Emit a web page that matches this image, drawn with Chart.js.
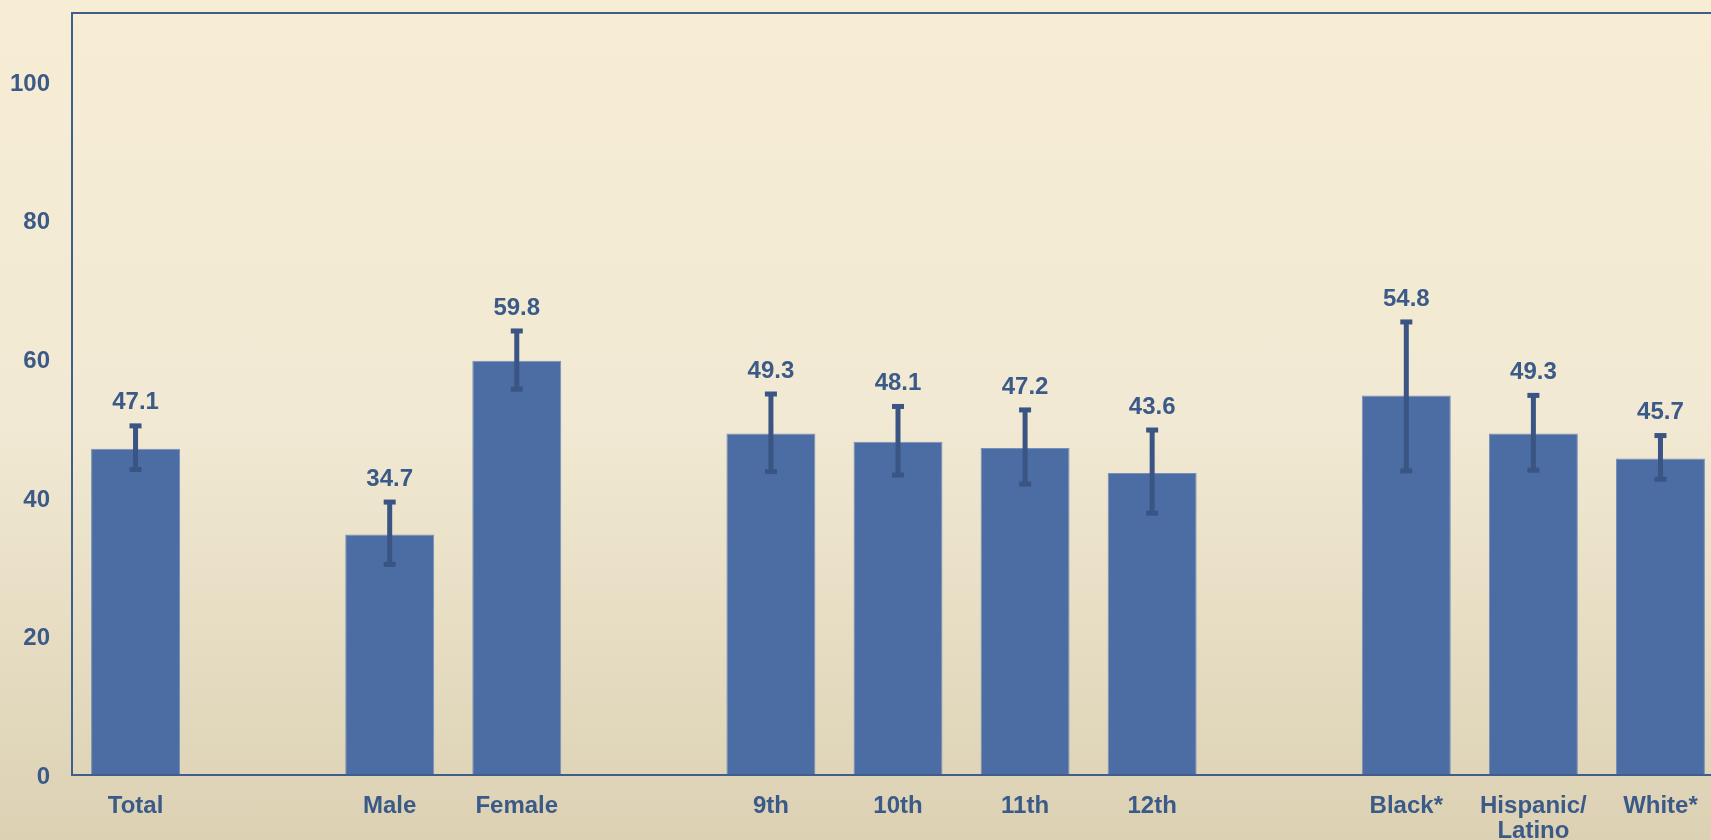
<!DOCTYPE html>
<html>
<head>
<meta charset="utf-8">
<script src="https://cdn.jsdelivr.net/npm/chart.js@4.4.1/dist/chart.umd.min.js"></script>
<style>
    html, body { margin: 0; padding: 0; overflow: hidden; }
    body {
        width: 1711px;
        height: 840px;
        background: linear-gradient(to bottom, #f7edd5 0%, #f1e9d3 50%, #dcd1b3 100%);
    }
    #wrap { width: 1740px; height: 840px; position: relative; }
</style>
</head>
<body>
<div id="wrap"><canvas id="myBarChart"></canvas></div>
<script>
// Danh mục và số liệu (ô trống = khoảng cách giữa các nhóm)
const categories = ["Total", "", "Male", "Female", "", "9th", "10th", "11th", "12th", "", "Black*", ["Hispanic/", "Latino"], "White*"];
const percentValues = [47.1, null, 34.7, 59.8, null, 49.3, 48.1, 47.2, 43.6, null, 54.8, 49.3, 45.7];
const ciLower = [44.1, null, 30.4, 55.7, null, 43.8, 43.3, 42.0, 37.8, null, 43.9, 44.0, 42.7];
const ciUpper = [50.4, null, 39.4, 64.1, null, 55.0, 53.2, 52.7, 49.8, null, 65.4, 54.8, 49.0];
const yTicks = [0, 20, 40, 60, 80, 100];

const textColor = "#3b5a88";
const fontFamily = '"Liberation Sans", Arial, sans-serif';

// Vẽ thanh sai số, nhãn giá trị và khung biểu đồ
const errorBarPlugin = {
    id: "errorBars",
    afterDatasetsDraw: function (chart) {
        const ctx = chart.ctx;
        const yScale = chart.scales.y;
        const meta = chart.getDatasetMeta(0);
        ctx.save();
        meta.data.forEach(function (bar, i) {
            if (percentValues[i] == null) return;
            const x = bar.x;
            const top = yScale.getPixelForValue(ciUpper[i]);
            const bottom = yScale.getPixelForValue(ciLower[i]);
            ctx.strokeStyle = "#3a5583";
            ctx.fillStyle = "#3a5583";
            ctx.lineWidth = 5;
            ctx.beginPath();
            ctx.moveTo(x, top);
            ctx.lineTo(x, bottom);
            ctx.stroke();
            ctx.fillRect(x - 6, top - 2.5, 12, 5);
            ctx.fillRect(x - 6, bottom - 2.5, 12, 5);

            ctx.font = "bold 24px " + fontFamily;
            ctx.textAlign = "center";
            ctx.textBaseline = "middle";
            ctx.fillStyle = textColor;
            ctx.fillText(percentValues[i].toFixed(1), x, top - 23);
        });
        const a = chart.chartArea;
        ctx.strokeStyle = "#3f5e8c";
        ctx.lineWidth = 2;
        ctx.beginPath();
        ctx.moveTo(a.right + 20, a.top);
        ctx.lineTo(a.left, a.top);
        ctx.lineTo(a.left, a.bottom);
        ctx.lineTo(a.right + 20, a.bottom);
        ctx.stroke();
        ctx.restore();
    },
};

document.addEventListener("DOMContentLoaded", function () {
    const ctxBar = document.getElementById("myBarChart").getContext("2d");
    new Chart(ctxBar, {
        type: "bar",
        data: {
            labels: categories,
            datasets: [
                {
                    label: "Percent",
                    data: percentValues,
                    backgroundColor: "#4b6da3",
                    borderColor: "#7890b9",
                    borderWidth: 1,
                    categoryPercentage: 1.0,
                    barPercentage: 0.7,
                },
            ],
        },
        options: {
            responsive: true,
            maintainAspectRatio: false,
            animation: false,
            layout: {
                padding: { left: 0, top: 13, right: 16, bottom: 0 },
            },
            scales: {
                y: {
                    min: 0,
                    max: 110,
                    afterBuildTicks: function (scale) {
                        scale.ticks = yTicks.map((v) => ({ value: v }));
                    },
                    afterFit: function (scale) {
                        scale.width = 72;
                        scale.paddingTop = 0;
                        scale.paddingBottom = 0;
                    },
                    grid: { display: false, drawTicks: false },
                    border: { display: false },
                    ticks: {
                        padding: 22,
                        labelOffset: 2,
                        color: textColor,
                        font: { family: fontFamily, size: 24, weight: "bold" },
                    },
                },
                x: {
                    afterFit: function (scale) {
                        scale.height = 65;
                        scale.paddingLeft = 0;
                        scale.paddingRight = 0;
                    },
                    grid: { display: false, drawTicks: false },
                    border: { display: false },
                    ticks: {
                        padding: 19,
                        autoSkip: false,
                        maxRotation: 0,
                        color: textColor,
                        font: { family: fontFamily, size: 24, weight: "bold", lineHeight: 1.05 },
                    },
                },
            },
            plugins: {
                legend: { display: false },
                tooltip: { enabled: false },
            },
        },
        plugins: [errorBarPlugin],
    });
});
</script>
</body>
</html>
